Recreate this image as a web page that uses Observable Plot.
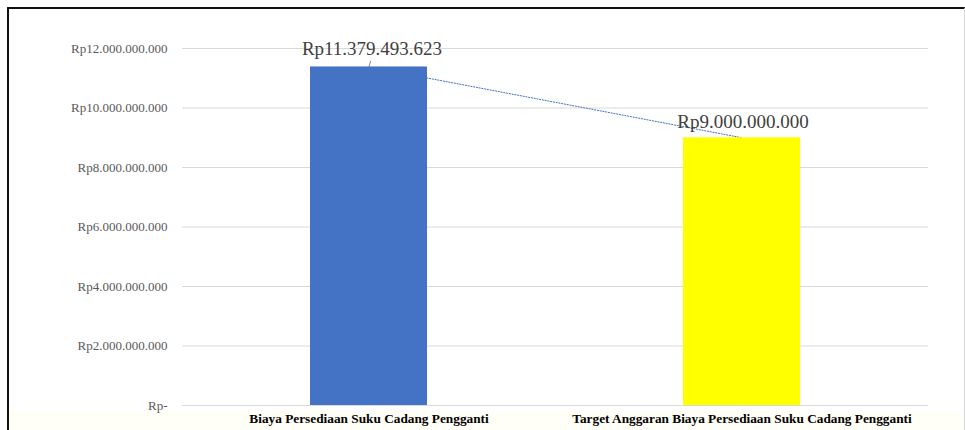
<!DOCTYPE html>
<html>
<head>
<meta charset="utf-8">
<script src="https://cdn.jsdelivr.net/npm/d3@7"></script>
<script src="https://cdn.jsdelivr.net/npm/@observablehq/plot@0.6"></script>
<style>
  html, body { margin: 0; padding: 0; background: #ffffff; }
  #wrap { position: relative; width: 965px; height: 430px; overflow: hidden; background: #ffffff; }
  #tint { position: absolute; left: 9px; top: 411px; width: 956px; height: 19px; background: #fffef7; }
  #frame { position: absolute; left: 7px; top: 7px; width: 955px; height: 430px;
           border-left: 2px solid #111; border-top: 2px solid #111; border-right: 1px solid #d8d8d8; }
  #chart { position: absolute; left: 0; top: 0; }
</style>
</head>
<body>
<div id="wrap"><div id="tint"></div><div id="frame"></div><div id="chart"></div></div>
<script>
const categories = [
  "Biaya Persediaan Suku Cadang Pengganti",
  "Target Anggaran Biaya Persediaan Suku Cadang Pengganti"
];
const values = [11379493623, 9000000000];
const valueLabels = ["Rp11.379.493.623", "Rp9.000.000.000"];
const yTicks = [0, 2e9, 4e9, 6e9, 8e9, 10e9, 12e9];
const barColors = ["#4472C4", "#FFFF00"];

const data = categories.map((c, i) => ({cat: c, value: values[i], label: valueLabels[i], color: barColors[i]}));

const idLocale = d3.formatLocale({decimal: ",", thousands: ".", grouping: [3], currency: ["Rp", ""]});
const fmt = idLocale.format(",");
const tickFormat = d => d === 0 ? "Rp-" : "Rp" + fmt(d);

const leaderShape = {
  draw(context, l) { context.moveTo(0, 0); context.lineTo(0, -l); }
};

const chart = Plot.plot({
  width: 965,
  height: 430,
  marginLeft: 182,
  marginRight: 37,
  marginTop: 48,
  marginBottom: 25,
  style: {fontFamily: "'Liberation Serif', 'Times New Roman', serif", background: "transparent"},
  x: {domain: categories, paddingInner: 0.686, paddingOuter: 0.343, label: null},
  y: {domain: [0, 12e9], label: null},
  marks: [
    Plot.gridY(yTicks, {stroke: "#d9d9d9", strokeOpacity: 1}),
    Plot.axisY(yTicks, {tickSize: 0, tickPadding: 15, tickFormat, fontSize: 13, fill: "#595959", label: null}),
    Plot.axisX({tickSize: 0, tickPadding: 8, fontSize: 13.3, fontWeight: "bold", fill: "#000", label: null}),
    Plot.line(data, {x: "cat", y: "value", stroke: "#4472C4", strokeWidth: 1, strokeDasharray: "1.2,1.6"}),
    Plot.barY(data, {x: "cat", y: "value", fill: "color"}),
    Plot.vector(data.slice(0, 1), {x: "cat", y: "value", length: 6, rotate: 15, anchor: "start", shape: leaderShape, stroke: "#8c8c8c", strokeWidth: 1}),
    Plot.text(data.slice(0, 1), {x: "cat", y: "value", text: "label", dy: -18, dx: 3, fontSize: 19, fill: "#404040"}),
    Plot.text(data.slice(1, 2), {x: "cat", y: "value", text: "label", dy: -16, dx: 1, fontSize: 19, fill: "#404040"})
  ]
});
document.getElementById("chart").appendChild(chart);
</script>
</body>
</html>
